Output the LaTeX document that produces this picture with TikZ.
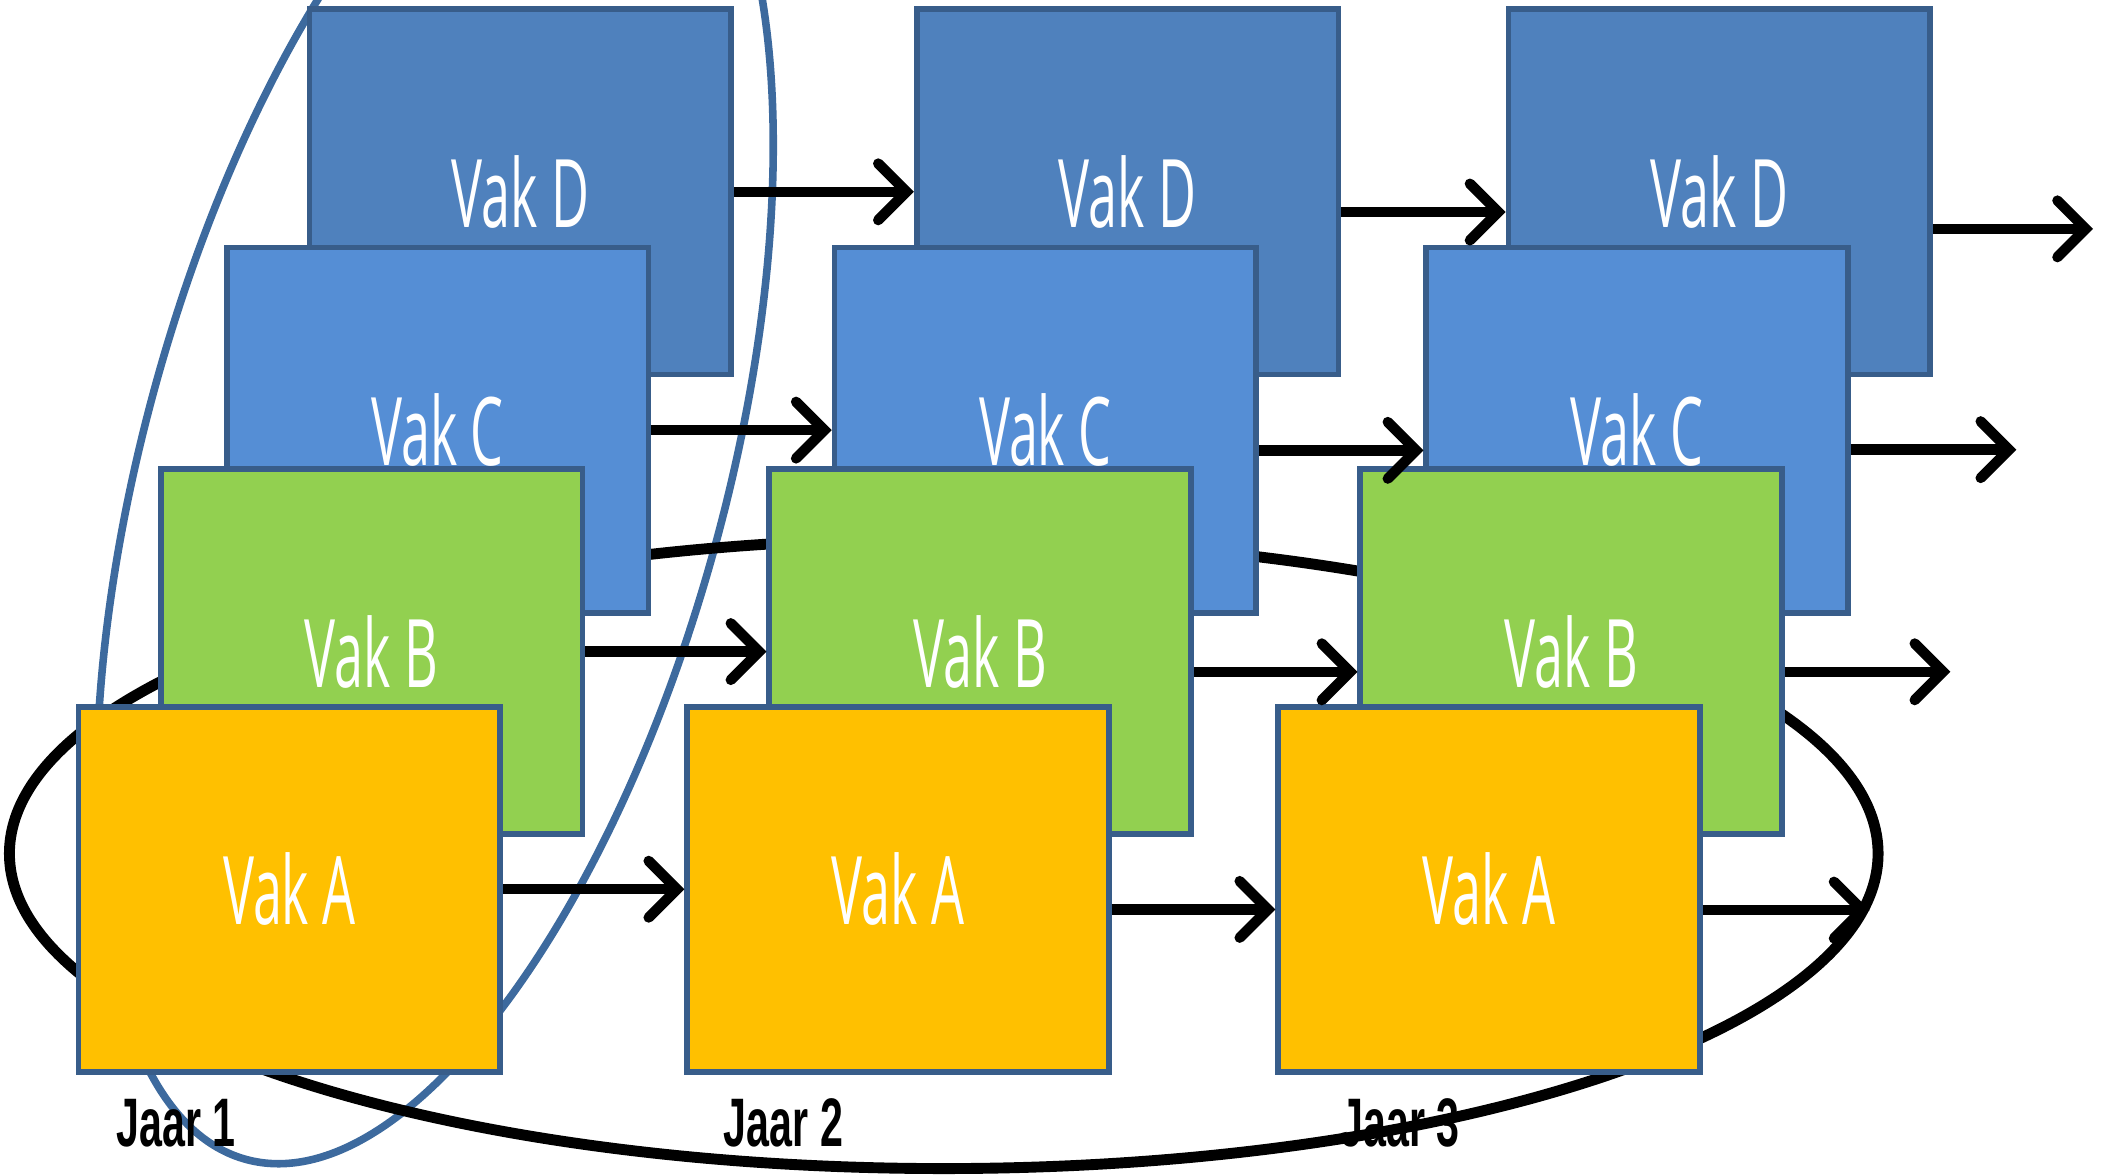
\documentclass[tikz,border=0pt]{standalone}
\usepackage{fontspec}
\usetikzlibrary{arrows.meta,calc}
\newfontfamily\vakfont[FakeStretch=0.55]{Open Sans}
\newfontfamily\jaarfont[FakeStretch=0.6]{Liberation Sans}
\definecolor{colD}{HTML}{4F81BD}
\definecolor{colC}{HTML}{558ED5}
\definecolor{colB}{HTML}{92D050}
\definecolor{colA}{HTML}{FFC000}
\definecolor{edgeblue}{HTML}{385D8A}
\definecolor{ringblue}{HTML}{3D6A9E}
\begin{document}
\begin{tikzpicture}[x=0.01cm,y=-0.01cm,
  vak/.style={draw=edgeblue, line width=1.2pt, minimum width=3.13cm, minimum height=2.71cm,
    inner sep=0pt, text=white, font=\vakfont\fontsize{20}{24}\selectfont},
  vakD/.style={vak, fill=colD},
  vakC/.style={vak, fill=colC},
  vakB/.style={vak, fill=colB},
  vakA/.style={vak, fill=colA},
  flow/.style={line width=2.2pt, -{Straight Barb[length=0.21cm,width=0.42cm,line cap=round]}},
  jaar/.style={inner sep=0pt, text=black, font=\jaarfont\bfseries\fontsize{14.5}{17}\selectfont},
  ring/.style={draw=ringblue, line width=1.6pt},
  loop/.style={draw=black, line width=2.3pt}
]
\useasboundingbox (0,0) rectangle (1568,873.5);
\clip (0,0) rectangle (1568,873.5);

% ellipses (behind the boxes)
\draw[ring, shift={(323,347)}, rotate=74.75] (0,0) ellipse [x radius=5.327cm, y radius=2.161cm];
\draw[loop] (701,634) ellipse [x radius=694, y radius=234];

% column 1
\node[vakD] (d1) at (386.5,142.5) {Vak D};
\node[vakC] (c1) at (325,319.5) {Vak C};
\node[vakB] (b1) at (276,484) {Vak B};
\node[vakA] (a1) at (215,660.5) {Vak A};
% column 2
\node[vakD] (d2) at (837.5,142.5) {Vak D};
\node[vakC] (c2) at (776.5,319.5) {Vak C};
\node[vakB] (b2) at (728,484) {Vak B};
\node[vakA] (a2) at (667,660.5) {Vak A};
% column 3
\node[vakD] (d3) at (1277,142.5) {Vak D};
\node[vakC] (c3) at (1216,319.5) {Vak C};
\node[vakB] (b3) at (1167,484) {Vak B};
\node[vakA] (a3) at (1106,660.5) {Vak A};

% arrows column 1 -> 2
\draw[flow] (d1.east) -- (d2.west);
\draw[flow] (c1.east) -- (c2.west);
\draw[flow] (b1.east) -- (b2.west);
\draw[flow] (a1.east) -- (a2.west);
% arrows column 2 -> 3
\draw[flow] ($(d2.east)+(0,15)$) -- ($(d3.west)+(0,15)$);
\draw[flow] ($(c2.east)+(0,15)$) -- ($(c3.west)+(0,15)$);
\draw[flow] ($(b2.east)+(0,15)$) -- ($(b3.west)+(0,15)$);
\draw[flow] ($(a2.east)+(0,15)$) -- ($(a3.west)+(0,15)$);
% arrows out of column 3
\coordinate (dout) at ($(d3.east)+(119,27.5)$);
\coordinate (cout) at ($(c3.east)+(123,14.5)$);
\coordinate (bout) at ($(b3.east)+(123,15)$);
\coordinate (aout) at ($(a3.east)+(124,15.5)$);
\draw[flow] ($(d3.east)+(0,27.5)$) -- (dout);
\draw[flow] ($(c3.east)+(0,14.5)$) -- (cout);
\draw[flow] ($(b3.east)+(0,15)$) -- (bout);
\draw[flow] ($(a3.east)+(0,15.5)$) -- (aout);

% year labels
\node[jaar] (j1) at (131,834) {Jaar 1};
\node[jaar] (j2) at (582,834) {Jaar 2};
\node[jaar] (j3) at (1040,834) {Jaar 3};
\end{tikzpicture}
\end{document}
